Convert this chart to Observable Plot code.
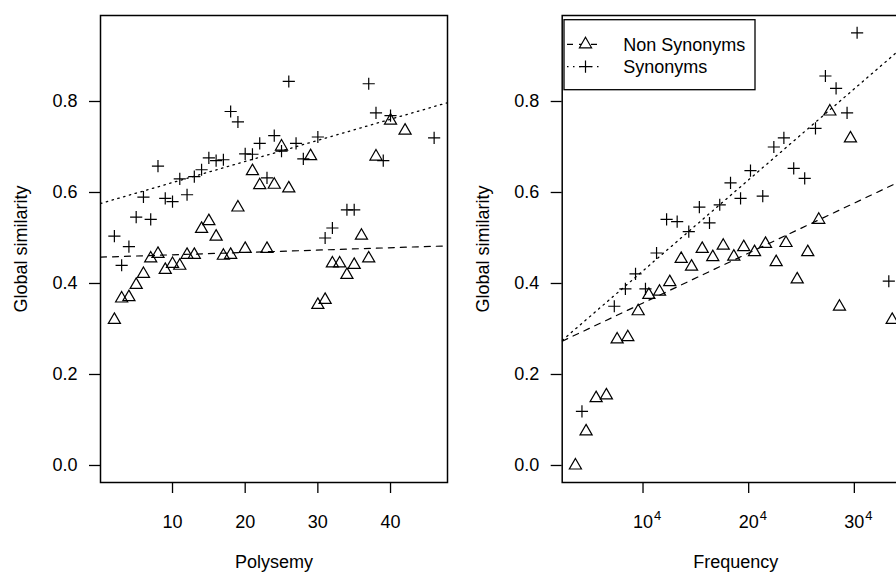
<!DOCTYPE html>
<html><head><meta charset="utf-8">
<script src="https://cdn.jsdelivr.net/npm/d3@7"></script>
<script src="https://cdn.jsdelivr.net/npm/@observablehq/plot@0.6"></script>
<style>
html,body{margin:0;padding:0;background:#fff;overflow:hidden;}
#wrap{position:relative;width:896px;height:574px;overflow:hidden;background:#fff;}
#wrap svg{position:absolute;top:0;max-width:none;}
</style></head><body><div id="wrap"></div>
<script>
// ---- data ----
const yTicks = [0, 0.2, 0.4, 0.6, 0.8];
const polyTicks = [10, 20, 30, 40];
const freqTicks = [10, 20, 30]; // fourth-root scale: 10^4, 20^4, 30^4
const freqExponent = "4";

// Left panel: Polysemy
const polySynX = [2,3,4,5,6,7,8,9,10,11,12,13,14,15,16,17,18,19,20,21,22,23,24,25,26,27,28,30,31,32,34,35,37,38,39,40,46];
const polySynY = [0.504,0.440,0.481,0.546,0.590,0.541,0.658,0.587,0.580,0.630,0.595,0.635,0.650,0.676,0.670,0.672,0.778,0.755,0.685,0.684,0.708,0.632,0.725,0.691,0.844,0.708,0.674,0.722,0.500,0.522,0.562,0.562,0.839,0.775,0.670,0.769,0.720];
const polyNonX = [2,3,4,5,6,7,8,9,10,11,12,13,14,15,16,17,18,19,20,21,22,23,24,25,26,29,30,31,32,33,34,35,36,37,38,40,42];
const polyNonY = [0.320,0.367,0.370,0.397,0.421,0.455,0.465,0.430,0.443,0.439,0.463,0.463,0.520,0.537,0.503,0.461,0.463,0.567,0.476,0.647,0.616,0.476,0.617,0.701,0.609,0.680,0.353,0.364,0.444,0.444,0.419,0.441,0.505,0.455,0.679,0.758,0.736];
const polyFitNon = [0.4578, 0.00052]; // intercept, slope
const polyFitSyn = [0.5754, 0.00464];

// Right panel: Frequency (fourth root)
const freqSynX = [3.89,6.95,8.0,8.96,9.9,10.95,11.9,12.9,14.0,15.0,15.96,16.93,17.95,18.9,19.84,21.0,22.05,23.0,23.93,24.97,25.99,26.93,27.94,28.98,29.93,32.93];
const freqSynY = [0.119,0.350,0.388,0.421,0.388,0.467,0.541,0.536,0.514,0.568,0.533,0.573,0.621,0.587,0.648,0.592,0.700,0.720,0.653,0.631,0.741,0.856,0.829,0.775,0.951,0.405];
const freqNonX = [3.27,4.28,5.23,6.2,7.22,8.23,9.21,10.22,11.23,12.2,13.28,14.26,15.27,16.27,17.26,18.26,19.2,20.22,21.26,22.27,23.2,24.26,25.26,26.3,27.35,28.26,29.3,33.25];
const freqNonY = [0.000,0.075,0.148,0.154,0.277,0.282,0.339,0.375,0.382,0.403,0.454,0.437,0.476,0.458,0.483,0.459,0.480,0.469,0.487,0.447,0.489,0.409,0.469,0.540,0.778,0.349,0.719,0.320];
const freqFitNon = [0.251, 0.01098];
const freqFitSyn = [0.2346, 0.0200];

const seriesNames = ["Non Synonyms", "Synonyms"];
const yTitle = "Global similarity";

// ---- drawing ----
const FONT = '"Liberation Sans", Arial, Helvetica, sans-serif';
const wrap = document.getElementById("wrap");
const yDomain = [-0.0374, 0.989];
const pts = (xs, ys) => xs.map((x, i) => ({x, y: ys[i]}));
const fitLine = (f, dom) => dom.map(x => ({x, y: f[0] + f[1] * x}));

function panel(o) {
  const svg = Plot.plot({
    width: o.width, height: 574,
    marginLeft: o.marginLeft, marginRight: o.width - o.marginLeft - 347,
    marginTop: 15, marginBottom: 92,
    x: {domain: o.xDomain},
    y: {domain: yDomain},
    style: {fontFamily: FONT, fontSize: "18px", background: "white", color: "black", overflow: "visible"},
    marks: [
      Plot.line(fitLine(o.fitNon, o.xDomain), {x: "x", y: "y", stroke: "black", strokeWidth: 1.2, strokeDasharray: "6,6", clip: true}),
      Plot.line(fitLine(o.fitSyn, o.xDomain), {x: "x", y: "y", stroke: "black", strokeWidth: 1.3, strokeDasharray: "1.5,4.5", clip: true}),
      Plot.dot(o.non, {x: "x", y: "y", symbol: "triangle", r: 4.5, stroke: "black", fill: "none", strokeWidth: 1.2}),
      Plot.dot(o.syn, {x: "x", y: "y", symbol: "plus", r: 4, stroke: "black", strokeWidth: 1.2}),
      Plot.frame({stroke: "black", strokeWidth: 1.5}),
      Plot.axisY({ticks: yTicks, tickFormat: d3.format(".1f"), tickSize: 11, tickPadding: 12, label: null, strokeWidth: 1.3, fontSize: 18}),
      Plot.axisX({ticks: o.xTicks, tickFormat: d => String(d), tickSize: 11, tickPadding: 22, label: null, strokeWidth: 1.3, fontSize: 18, dx: o.sup ? -3.5 : 0}),
      o.sup ? Plot.text(o.xTicks, {x: d => d, text: () => o.sup, frameAnchor: "bottom", textAnchor: "start", dx: 7.5, dy: 33.8, lineAnchor: "middle", fontSize: 13}) : null,
      Plot.text([o.xTitle], {text: d => d, frameAnchor: "bottom", textAnchor: "middle", dy: 80, lineAnchor: "middle", fontSize: 18}),
      Plot.text([yTitle], {text: d => d, frameAnchor: "left", textAnchor: "middle", dx: -79, rotate: -90, lineAnchor: "middle", fontSize: 18})
    ]
  });
  svg.style.left = o.left + "px";
  wrap.appendChild(svg);
}

panel({width: 470, left: 0, marginLeft: 100, xDomain: [0.09, 47.84], xTicks: polyTicks, sup: null,
  xTitle: "Polysemy", non: pts(polyNonX, polyNonY), syn: pts(polySynX, polySynY), fitNon: polyFitNon, fitSyn: polyFitSyn});

panel({width: 462, left: 470, marginLeft: 91.7, xDomain: [2.02, 34.86], xTicks: freqTicks, sup: freqExponent,
  xTitle: "Frequency", non: pts(freqNonX, freqNonY), syn: pts(freqSynX, freqSynY), fitNon: freqFitNon, fitSyn: freqFitSyn});

// legend (top-left of right panel)
const lg = d3.select(wrap).append("svg")
  .attr("width", 896).attr("height", 574)
  .style("left", "0px").style("pointer-events", "none")
  .style("font-family", FONT).style("font-size", "18px");
lg.append("rect").attr("x", 564).attr("y", 19.7).attr("width", 191).attr("height", 70)
  .attr("fill", "white").attr("stroke", "black").attr("stroke-width", 1.3);
const rows = [
  {name: seriesNames[0], y: 44.3, dash: "6,6", sym: d3.symbolTriangle, size: Math.PI * 4.5 * 4.5},
  {name: seriesNames[1], y: 66.7, dash: "1.5,4.5", sym: d3.symbolPlus, size: Math.PI * 16}
];
rows.forEach(r => {
  lg.append("line").attr("x1", 567).attr("x2", 601).attr("y1", r.y).attr("y2", r.y)
    .attr("stroke", "black").attr("stroke-width", 1.2).attr("stroke-dasharray", r.dash);
  lg.append("path").attr("d", d3.symbol(r.sym, r.size)()).attr("transform", `translate(585.5,${r.y})`)
    .attr("fill", "white").attr("stroke", "black").attr("stroke-width", 1.2);
  lg.append("text").attr("x", 623.3).attr("y", r.y).attr("dy", "0.35em").text(r.name);
});
</script></body></html>
